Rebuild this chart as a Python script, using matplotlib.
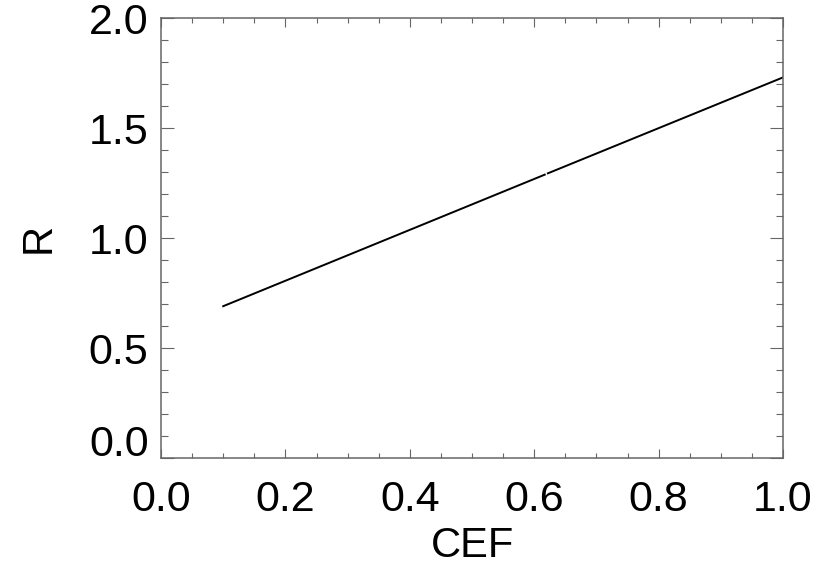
import matplotlib
matplotlib.use("Agg")
import matplotlib.pyplot as plt
import matplotlib.transforms as mtransforms
import numpy as np

# line is drawn in two pieces, with a tiny gap near CEF = 0.62
cef_a = [0.10, 0.617]
r_a = [0.69, 1.288]
cef_b = [0.622, 1.00]
r_b = [1.294, 1.73]

x_ticks = [0.0, 0.2, 0.4, 0.6, 0.8, 1.0]
y_ticks = [0.0, 0.5, 1.0, 1.5, 2.0]

plt.rcParams["font.family"] = ["Liberation Sans", "DejaVu Sans"]

fig = plt.figure(figsize=(8.22, 5.65), dpi=100)
ax = fig.add_axes([161 / 822, 107 / 565, 622 / 822, 440 / 565])

ax.plot(cef_a, r_a, color="black", lw=1.4)
ax.plot(cef_b, r_b, color="black", lw=1.4)

ax.set_xlim(0, 1.0)
ax.set_ylim(0, 2.0)
ax.set_xticks(x_ticks)
ax.set_yticks(y_ticks)
ax.set_xticks(np.arange(0, 1.0001, 0.05), minor=True)
ax.set_yticks(np.arange(0, 2.0001, 0.1), minor=True)
ax.set_xticklabels([f"{v:.1f}" for v in x_ticks])
ax.set_yticklabels([f"{v:.1f}" for v in y_ticks])

grey = "#666666"
for s in ax.spines.values():
    s.set_color(grey)
    s.set_linewidth(1.1)

ax.tick_params(axis="both", which="both", direction="in", top=True, right=True,
               color=grey, width=0.8, labelsize=31)
ax.tick_params(axis="x", which="major", length=6.5, pad=16)
ax.tick_params(axis="x", which="minor", length=3.5)
ax.tick_params(axis="y", which="major", length=9.5, pad=9)
ax.tick_params(axis="y", which="minor", length=5)

# IDL-style: lowest y label nudged up
lbl0 = ax.get_yticklabels()[0]
lbl0.set_transform(lbl0.get_transform() +
                   mtransforms.ScaledTranslation(0, 18 / 100, fig.dpi_scale_trans))

ax.set_xlabel("CEF", fontsize=30, labelpad=4)
ax.set_ylabel("R", fontsize=30, labelpad=22)

fig.savefig("out.png", dpi=100)
